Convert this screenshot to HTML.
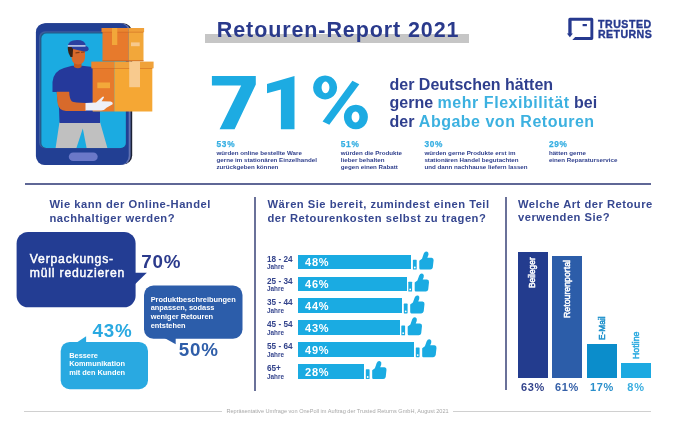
<!DOCTYPE html>
<html><head><meta charset="utf-8">
<style>
html,body{margin:0;padding:0;background:#fff;}
body{width:675px;height:422px;position:relative;overflow:hidden;font-family:"Liberation Sans",sans-serif;}
.a{position:absolute;white-space:nowrap;}
.b{font-weight:bold;}
.navy{color:#2b3a8c;}
.lb{color:#29abe2;}
.hd{font-weight:bold;color:#364790;font-size:11.2px;line-height:13.6px;letter-spacing:0.5px;}
.st{font-weight:bold;color:#2f3f8c;font-size:6.2px;line-height:7.4px;}
.stp{font-weight:bold;color:#34aee2;font-size:8.3px;line-height:9px;letter-spacing:0.7px;-webkit-text-stroke:0.25px #3bb0e2;}
.bar{position:absolute;left:298px;height:14.9px;background:#1aabe2;}
.bt{position:absolute;left:305px;font-weight:bold;color:#fff;font-size:11px;line-height:14.9px;letter-spacing:0.8px;margin-top:0.6px;}
.ag{position:absolute;left:267px;font-weight:bold;color:#34448c;font-size:8.2px;line-height:7.8px;}
.ag span{display:block;font-size:6.4px;line-height:7.2px;}
.th{position:absolute;}
.vb{position:absolute;width:29.5px;}
.vl{position:absolute;font-weight:normal;font-size:9.2px;line-height:9px;transform-origin:0 0;transform:rotate(-90deg) scaleX(0.91);-webkit-text-stroke:0.5px currentColor;}
.vp{position:absolute;font-weight:bold;font-size:11px;line-height:12px;text-align:center;width:40px;letter-spacing:0.7px;margin-top:0.6px;}
#wrap{position:absolute;left:0;top:0;width:675px;height:422px;filter:blur(0.3px);}
</style></head><body><div id="wrap">

<!-- tablet illustration -->
<svg class="a" style="left:0;top:0" width="170" height="175" viewBox="0 0 170 175">
  <rect x="38.5" y="23.3" width="93.7" height="141" rx="9" fill="#1b2136"/>
  <rect x="37.4" y="23.2" width="93.2" height="141.6" rx="9" fill="#6272b2"/>
  <rect x="35.9" y="23.2" width="92.8" height="141.9" rx="9" fill="#223f93"/>
  <rect x="39" y="31.3" width="86.8" height="116.9" rx="6" fill="#3d5b9c"/>
  <rect x="40.3" y="32.5" width="85.5" height="115.6" rx="5.5" fill="#1f5a85"/>
  <rect x="41.4" y="33.6" width="84.4" height="114.4" rx="5" fill="#1babe1"/>
  <rect x="68.8" y="152.4" width="28.9" height="8.7" rx="4.35" fill="#6a78c8"/>
  <!-- legs -->
  <path d="M59.5 122 L100 122 L107.4 148 L86.6 148 L82.8 128.5 L76.4 148 L55.6 148 Z" fill="#c0c0c0"/>
  <!-- shirt -->
  <path d="M52.5 92 L52.5 82 Q53.5 71 64 68 L72 65.8 L82 65.8 L93 67 L93 111.5 L100 111.5 L100 123 L59.5 123 L59 108 L57.5 100 L56.7 92 Z" fill="#25399b"/>
  <!-- arm -->
  <path d="M56.7 91.8 L69.2 91.8 Q69.4 99 72 101.6 Q74 103 86 103 L86 111 L66 111 Q58.5 110.3 57.5 103 Z" fill="#d86a2b"/>
  <!-- neck/head -->
  <path d="M74 58 L81.5 58 L81.5 67 Q78 69.5 74 67 Z" fill="#c25a20"/>
  <path d="M71 48 L85 48 L85 58 Q84 64 78 64.5 Q73 64 72 60 L71 55 Z" fill="#d86a2b"/>
  <path d="M67.8 47 L73.5 47 L73 50 L72.5 57 L70.5 57 Q68 53 67.8 49 Z" fill="#3b2113"/>
  <path d="M75.5 52.3 L79.5 51.8 L79.5 53 L75.5 53.4 Z M81 51.7 L84.5 51.5 L84.5 52.6 L81 52.8 Z" fill="#5a2a10" opacity="0.7"/>
  <!-- cap -->
  <path d="M67.8 47 Q67.8 40.1 77 40.1 Q85.5 40.1 85.8 46 L67.8 47 Z" fill="#2b40a0"/>
  <path d="M71 46.5 L85.8 46 Q89 46.5 88.6 49.5 Q88 52 84 51.5 L73 49 Z" fill="#2b40a0"/>
  <rect x="67.8" y="45.2" width="17.8" height="1.4" fill="#d4dcf4"/>
  <!-- top box -->
  <rect x="102.5" y="31.5" width="26" height="29.5" fill="#e77a2c"/>
  <rect x="128.5" y="31.5" width="15" height="29.5" fill="#f2a73a"/>
  <rect x="101.5" y="28" width="27" height="4" fill="#ea862f"/>
  <rect x="128.5" y="28" width="15.6" height="4" fill="#f0a13a"/>
  <rect x="102.5" y="31.8" width="41" height="0.7" fill="#c9611f" opacity="0.7"/>
  <rect x="112" y="28" width="5.3" height="17" fill="#f2a73a"/>
  <rect x="131" y="42.4" width="8.7" height="3.8" fill="#f7c98d"/>
  <rect x="102.5" y="60" width="41" height="1.6" fill="#c9611f" opacity="0.6"/>
  <!-- bottom box -->
  <rect x="92.6" y="68" width="21.8" height="43.5" fill="#e77a2c"/>
  <rect x="114.4" y="68" width="37.9" height="43.5" fill="#f5a734"/>
  <rect x="91.3" y="61.6" width="23.1" height="6.7" fill="#ea862f"/>
  <rect x="114.4" y="61.6" width="39.2" height="6.7" fill="#f0a23a"/>
  <rect x="92.6" y="68" width="59.7" height="0.8" fill="#c9611f" opacity="0.6"/>
  <rect x="129.2" y="61.6" width="10.8" height="25.6" fill="#f8ca8e"/>
  <rect x="97.3" y="82.5" width="12.7" height="5.7" fill="#f3a93a"/>
  <!-- glove -->
  <path d="M85.5 103 L96 102.6 L102 97.2 Q103.4 96 104.1 97.3 L101.6 101.2 L110.6 101.6 Q113.2 102.3 112.6 104.2 L106.5 107.8 Q104.5 110.5 101 110.6 L85.5 110.6 Z" fill="#eef0f8"/>
</svg>

<!-- title -->
<div class="a" style="left:205.4px;top:34px;width:263.6px;height:8.7px;background:#c6c6c6;"></div>
<div class="a b navy" id="title" style="left:216.8px;top:17.8px;font-size:21.5px;line-height:24px;letter-spacing:0.9px;color:#2a3a8c;">Retouren-Report 2021</div>

<!-- logo -->
<svg class="a" style="left:0;top:0" width="675" height="60" viewBox="0 0 675 60">
  <path d="M568.3 34 V19.4 Q568.3 17.8 569.9 17.8 H591.7 Q593.3 17.8 593.3 19.4 V38.3 Q593.3 39.9 591.7 39.9 H572.3 L575.2 37.1 H590.4 V20.7 H571.6 V34 Z" fill="#26398f"/>
  <path d="M566.9 33.6 H572.9 L569.9 37.2 Z" fill="#26398f"/>
  <rect x="582.6" y="24" width="4.3" height="2.2" fill="#26398f"/>
</svg>
<div class="a b" id="logo1" style="left:598px;top:20.3px;font-size:10.2px;line-height:10px;color:#26398f;letter-spacing:0.5px;-webkit-text-stroke:0.35px #26398f;transform-origin:0 0;transform:scaleX(1.04);">TRUSTED</div>
<div class="a b" id="logo2" style="left:598px;top:29.6px;font-size:10.2px;line-height:10px;color:#26398f;letter-spacing:0.4px;-webkit-text-stroke:0.35px #26398f;transform-origin:0 0;transform:scaleX(1.04);">RETURNS</div>

<!-- 71% -->
<svg class="a" style="left:0;top:0" width="675" height="422" viewBox="0 0 675 422">
  <g fill="#1dabe2">
    <path d="M211.9 75.9 H255.8 V84.6 L234.6 129.3 H219.6 L241.2 85.4 H211.9 Z"/>
    <path d="M267 83.9 L294.5 76 V129.3 H280.9 V89.6 L267 93.2 Z"/>
    <path fill-rule="evenodd" d="M325.1 75.4 A12 12 0 1 1 325.09 75.4 Z M325.5 81.6 A3.9 5.8 0 1 0 325.51 81.6 Z"/>
    <path fill-rule="evenodd" d="M355.9 104.7 A12 12.3 0 1 1 355.89 104.7 Z M355.5 111.6 A3.9 5.4 0 1 0 355.51 111.6 Z"/>
    <path d="M352.4 80.8 L359.3 84.2 L329.3 124.8 L322.6 121.6 Z"/>
  </g>
</svg>
<div class="a b" id="r1" style="left:389.5px;top:75.7px;font-size:16px;line-height:18.75px;color:#2f3f8e;">der Deutschen hätten<br>gerne <span style="color:#3cb1e0;letter-spacing:0.55px">mehr Flexibilität</span> bei<br>der <span style="color:#3cb1e0;letter-spacing:0.5px">Abgabe von Retouren</span></div>

<!-- stats -->
<div class="a stp" style="left:216.5px;top:140px;">53%</div>
<div class="a st" style="left:216.5px;top:148.5px;">würden online bestellte Ware<br>gerne im stationären Einzelhandel<br>zurückgeben können</div>
<div class="a stp" style="left:340.8px;top:140px;">51%</div>
<div class="a st" style="left:340.8px;top:148.5px;">würden die Produkte<br>lieber behalten<br>gegen einen Rabatt</div>
<div class="a stp" style="left:424.4px;top:140px;">30%</div>
<div class="a st" style="left:424.4px;top:148.5px;">würden gerne Produkte erst im<br>stationären Handel begutachten<br>und dann nachhause liefern lassen</div>
<div class="a stp" style="left:548.9px;top:140px;">29%</div>
<div class="a st" style="left:548.9px;top:148.5px;">hätten gerne<br>einen Reparaturservice</div>

<!-- dividers -->
<div class="a" style="left:24.5px;top:183px;width:626px;height:2px;background:#5f6796;"></div>
<div class="a" style="left:254px;top:197px;width:2px;height:193.5px;background:#6a7199;"></div>
<div class="a" style="left:505px;top:197px;width:2px;height:193px;background:#6a7199;"></div>

<!-- section headings -->
<div class="a hd" style="left:49.4px;top:198px;">Wie kann der Online-Handel<br>nachhaltiger werden?</div>
<div class="a hd" style="left:267.5px;top:198.3px;">Wären Sie bereit, zumindest einen Teil<br>der Retourenkosten selbst zu tragen?</div>
<div class="a hd" style="left:518px;top:197.8px;">Welche Art der Retoure<br>verwenden Sie?</div>

<!-- bubbles -->
<svg class="a" style="left:0;top:220px" width="250" height="180" viewBox="0 220 250 180">
  <rect x="16.6" y="232" width="119" height="75.3" rx="11.5" fill="#233d93"/>
  <path d="M135 272.7 L146.8 272.7 L135 284.3 Z" fill="#233d93"/>
  <rect x="144" y="285.4" width="98.5" height="53.4" rx="9.5" fill="#2c5daa"/>
  <path d="M164.5 338 L175.7 338 L175.7 344.3 Z" fill="#2c5daa"/>
  <rect x="60.7" y="341.9" width="87.3" height="47.3" rx="9" fill="#29a9e1"/>
  <path d="M76.8 342.4 L86.1 336.3 L86.1 342.4 Z" fill="#29a9e1"/>
</svg>
<div class="a" style="left:29.8px;top:251.6px;font-size:12.2px;line-height:14.5px;letter-spacing:0.8px;color:#fff;-webkit-text-stroke:0.45px #fff;">Verpackungs-<br>müll reduzieren</div>
<div class="a b" style="left:141.3px;top:252px;font-size:18.8px;line-height:20px;letter-spacing:0.8px;color:#2b3a8c;">70%</div>
<div class="a b" style="left:150.7px;top:295.9px;font-size:7.4px;line-height:8.6px;color:#fff;">Produktbeschreibungen<br>anpassen, sodass<br>weniger Retouren<br>entstehen</div>
<div class="a b" style="left:178.8px;top:340.1px;font-size:18.8px;line-height:20px;letter-spacing:0.8px;color:#2f5ea9;">50%</div>
<div class="a b" style="left:92.6px;top:321.1px;font-size:18.8px;line-height:20px;letter-spacing:0.8px;color:#29a9e1;">43%</div>
<div class="a b" style="left:69.2px;top:351.5px;font-size:7.4px;line-height:8.5px;color:#fff;">Bessere<br>Kommunikation<br>mit den Kunden</div>

<!-- horizontal bar chart -->
<div class="bar" style="top:254.6px;width:113px;"></div>
<div class="bar" style="top:276.5px;width:108.5px;"></div>
<div class="bar" style="top:298.4px;width:104px;"></div>
<div class="bar" style="top:320.3px;width:101.5px;"></div>
<div class="bar" style="top:342.2px;width:116px;"></div>
<div class="bar" style="top:364.1px;width:66px;"></div>
<div class="bt" style="top:254.6px;">48%</div>
<div class="bt" style="top:276.5px;">46%</div>
<div class="bt" style="top:298.4px;">44%</div>
<div class="bt" style="top:320.3px;">43%</div>
<div class="bt" style="top:342.2px;">49%</div>
<div class="bt" style="top:364.1px;">28%</div>
<div class="ag" style="top:255.6px;">18 - 24<span>Jahre</span></div>
<div class="ag" style="top:277.5px;">25 - 34<span>Jahre</span></div>
<div class="ag" style="top:299.4px;">35 - 44<span>Jahre</span></div>
<div class="ag" style="top:321.3px;">45 - 54<span>Jahre</span></div>
<div class="ag" style="top:343.2px;">55 - 64<span>Jahre</span></div>
<div class="ag" style="top:365.1px;">65+<span>Jahre</span></div>

<svg class="a" style="left:0;top:0" width="675" height="422" viewBox="0 0 675 422">
  <defs>
    <g id="thumb">
      <rect x="0" y="8.5" width="3.8" height="9.8" rx="0.6" fill="#1aabe2"/>
      <circle cx="1.9" cy="16.2" r="0.9" fill="#fff"/>
      <path d="M6.4 9.4 L9.1 7.4 L10.9 2.3 Q12.1 -0.4 14.4 0.5 Q16.1 1.4 15.4 4 L14.4 6.4 L18.7 6.4 Q20.9 6.6 20.7 9 L19.9 16.2 Q19.5 18.3 17.4 18.3 L7.6 18.3 Q6.4 18.3 6.4 17 Z" fill="#1aabe2"/>
    </g>
  </defs>
  <use href="#thumb" x="412.9" y="251.3"/>
  <use href="#thumb" x="408.3" y="273.2"/>
  <use href="#thumb" x="403.8" y="295.1"/>
  <use href="#thumb" x="401.3" y="317.0"/>
  <use href="#thumb" x="415.8" y="338.9"/>
  <use href="#thumb" x="365.8" y="360.8"/>
</svg>

<!-- vertical bar chart -->
<div class="vb" style="left:518.3px;top:251.5px;height:126.3px;background:#233c8e;"></div>
<div class="vb" style="left:552.4px;top:255.5px;height:122.3px;background:#2c5da9;"></div>
<div class="vb" style="left:587.3px;top:344px;height:33.8px;background:#0b8dcb;"></div>
<div class="vb" style="left:621.4px;top:362.5px;height:15.3px;background:#1ca9e1;"></div>
<div class="vl" style="left:528.3px;top:288.3px;color:#fff;">Beileger</div>
<div class="vl" style="left:562.5px;top:317.8px;color:#fff;transform:rotate(-90deg) scaleX(0.955);">Retourenportal</div>
<div class="vl" style="left:597.5px;top:340px;color:#1a8fcb;">E-Mail</div>
<div class="vl" style="left:632px;top:358.8px;color:#2aaae0;transform:rotate(-90deg) scaleX(0.96);">Hotline</div>
<div class="vp" style="left:513px;top:380px;color:#34448c;">63%</div>
<div class="vp" style="left:547px;top:380px;color:#3560a8;">61%</div>
<div class="vp" style="left:582px;top:380px;color:#2a8fcb;">17%</div>
<div class="vp" style="left:616px;top:380px;color:#3aaee0;">8%</div>

<!-- footer -->
<div class="a" style="left:24px;top:410.8px;width:198px;height:0.8px;background:#d0d0d0;"></div>
<div class="a" style="left:452.5px;top:410.8px;width:198px;height:0.8px;background:#d0d0d0;"></div>
<div class="a" style="left:226.4px;top:407.5px;font-size:5.6px;line-height:6px;color:#a8a8a8;">Repräsentative Umfrage von OnePoll im Auftrag der Trusted Returns GmbH, August 2021</div>

</div></body></html>
